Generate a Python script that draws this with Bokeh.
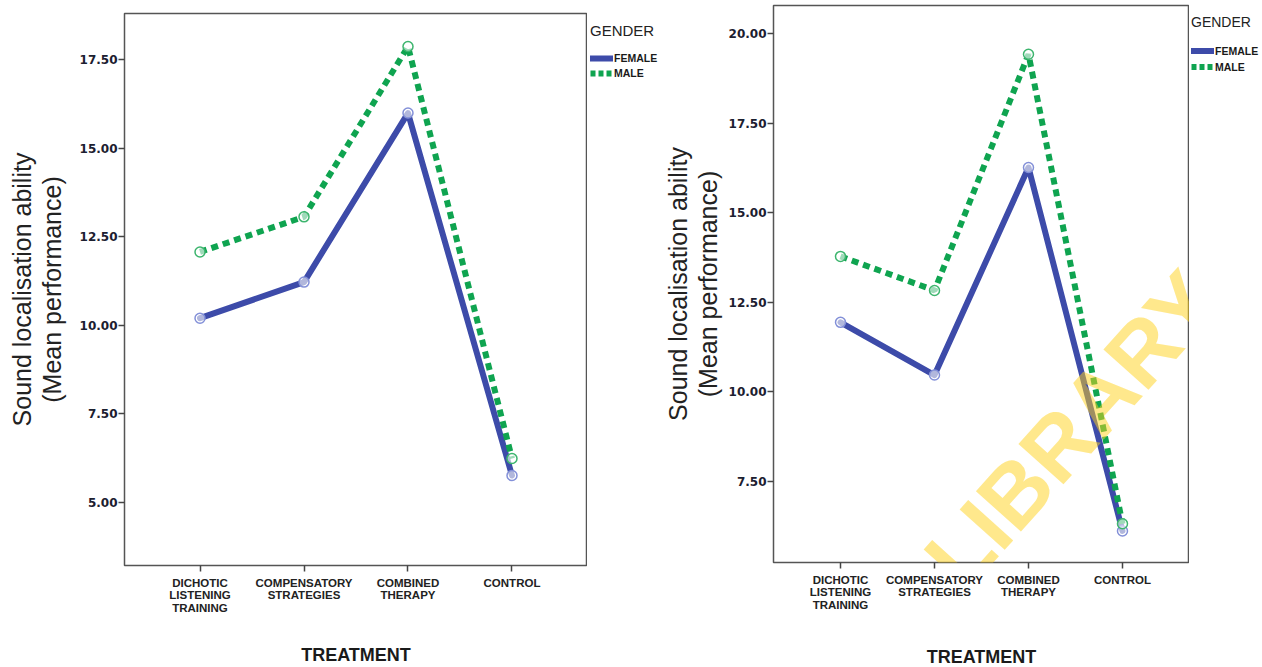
from bokeh.plotting import figure
from bokeh.models import (FactorRange, Range1d, Legend, LegendItem, FixedTicker,
                          NumeralTickFormatter, Label)
from bokeh.layouts import row, column
from bokeh.embed import file_html
from bokeh.resources import INLINE

# ---------------- data ----------------
treatments = ["DICHOTIC\nLISTENING\nTRAINING", "COMPENSATORY\nSTRATEGIES",
              "COMBINED\nTHERAPY", "CONTROL"]
genders = ["FEMALE", "MALE"]

female_left = [10.20, 11.22, 15.99, 5.76]
male_left = [12.07, 13.06, 17.87, 6.24]
female_right = [11.94, 10.47, 16.26, 6.12]
male_right = [13.78, 12.83, 19.42, 6.32]

yticks_left = [5.0, 7.5, 10.0, 12.5, 15.0, 17.5]
yticks_right = [7.5, 10.0, 12.5, 15.0, 17.5, 20.0]

y_title = "Sound localisation ability\n(Mean performance)"
x_title = "TREATMENT"
legend_title = "GENDER"
watermark = "IBADAN LIBRARY"

BLUE = "#3D4BA9"
BLUE_RING = "#8390D8"
GREEN = "#0FA450"
GREEN_RING = "#3DB56E"
NAN = float("nan")


def make(female, male, yticks, y0, y1, pad, frame_w, frame_h,
         b_left, b_top, b_bottom, x_standoff, y_standoff):
    p = figure(x_range=FactorRange(factors=treatments, range_padding=pad,
                                   range_padding_units="absolute"),
               y_range=Range1d(y0, y1),
               frame_width=frame_w, frame_height=frame_h,
               min_border_left=b_left, min_border_top=b_top,
               min_border_right=0, min_border_bottom=b_bottom,
               output_backend="svg", toolbar_location=None)
    p.grid.visible = False
    p.outline_line_color = "#555555"
    p.outline_line_width = 1.5
    p.background_fill_color = "white"
    p.border_fill_color = "white"

    # y axis
    ya = p.yaxis[0]
    ya.ticker = FixedTicker(ticks=yticks)
    ya.formatter = NumeralTickFormatter(format="0.00")
    ya.axis_line_color = None
    ya.major_tick_out = 6
    ya.major_tick_in = 0
    ya.minor_tick_line_color = None
    ya.major_tick_line_color = "#444444"
    ya.major_tick_line_width = 1.5
    ya.major_label_standoff = 1
    ya.major_label_text_font = "DejaVu Sans"
    ya.major_label_text_font_style = "bold"
    ya.major_label_text_font_size = "12px"
    ya.major_label_text_color = "#1c2030"
    ya.axis_label = y_title
    ya.axis_label_text_font = "Liberation Sans"
    ya.axis_label_text_font_style = "normal"
    ya.axis_label_text_font_size = "25px"
    ya.axis_label_text_line_height = 1.05
    ya.axis_label_text_color = "#222222"
    ya.axis_label_standoff = y_standoff

    # x axis
    xa = p.xaxis[0]
    xa.axis_line_color = None
    xa.major_tick_out = 6
    xa.major_tick_in = 0
    xa.major_tick_line_color = "#444444"
    xa.major_tick_line_width = 1.5
    xa.major_label_standoff = 5
    xa.major_label_text_font = "Liberation Sans"
    xa.major_label_text_font_style = "bold"
    xa.major_label_text_font_size = "11.5px"
    xa.major_label_text_color = "#222222"
    xa.major_label_text_line_height = 1.05
    xa.major_label_orientation = "horizontal"
    xa.axis_label = x_title
    xa.axis_label_text_font = "Liberation Sans"
    xa.axis_label_text_font_style = "bold"
    xa.axis_label_text_font_size = "18px"
    xa.axis_label_text_color = "#1a1a1a"
    xa.axis_label_standoff = x_standoff

    p.line(treatments, female, line_width=6, line_color=BLUE,
           line_cap="round", line_join="round")
    p.line(treatments, male, line_width=6, line_color=GREEN,
           line_dash="7 5")
    p.scatter(treatments, female, marker="circle", size=10,
              fill_color="white", fill_alpha=0.6, line_color=BLUE_RING,
              line_width=1.5)
    p.scatter(treatments, male, marker="circle", size=10,
              fill_color="white", fill_alpha=0.6, line_color=GREEN_RING,
              line_width=1.5)
    return p


def make_legend(width, off_left, off_top, title_size, label_h, title_standoff):
    lg = figure(x_range=Range1d(0, 1), y_range=Range1d(0, 1),
                frame_width=width - off_left, frame_height=110,
                min_border_left=off_left, min_border_top=off_top,
                min_border_right=0, min_border_bottom=0,
                output_backend="svg", toolbar_location=None)
    lg.axis.visible = False
    lg.grid.visible = False
    lg.outline_line_color = None
    lg.background_fill_color = "white"
    lg.border_fill_color = "white"
    rf = lg.line(x=[NAN], y=[NAN], line_width=6, line_color=BLUE,
                 line_cap="round")
    rm = lg.line(x=[NAN], y=[NAN], line_width=6, line_color=GREEN,
                 line_dash="5 3")
    legend = Legend(items=[LegendItem(label=genders[0], renderers=[rf]),
                           LegendItem(label=genders[1], renderers=[rm])],
                    title=legend_title, location="top_left",
                    margin=0, padding=3, spacing=1,
                    glyph_width=23, glyph_height=label_h,
                    label_height=label_h, label_standoff=1,
                    label_text_font="Liberation Sans",
                    label_text_font_style="bold",
                    label_text_font_size="10.5px",
                    label_text_color="#1a1a1a",
                    title_text_font="Liberation Sans",
                    title_text_font_style="normal",
                    title_text_font_size=title_size,
                    title_text_color="#222222",
                    title_standoff=title_standoff,
                    border_line_color=None,
                    background_fill_alpha=0)
    lg.add_layout(legend, "center")
    return lg


p1 = make(female_left, male_left, yticks_left, 3.22, 18.80, 0.226,
          463, 552, 124, 13, 100, 28, 11)
leg1 = make_legend(74, 3, 22, "15px", 14, 12)
p2 = make(female_right, male_right, yticks_right, 5.24, 20.78, 0.213,
          416, 557, 111, 5, 102, 33, 4)
leg2 = make_legend(74, 2, 14, "14px", 15, 13)

wm = Label(x=428, y=277, x_units="screen", y_units="screen",
           text=watermark, angle=0.838, text_align="right",
           text_baseline="alphabetic", text_font="Liberation Sans",
           text_font_style="bold",
           text_font_size="88px", text_color="#FFD21A", text_alpha=0.5)
p2.add_layout(wm)

layout = row(column(p1), column(leg1), column(p2), column(leg2))
open("out.html", "w").write(file_html(layout, INLINE))
